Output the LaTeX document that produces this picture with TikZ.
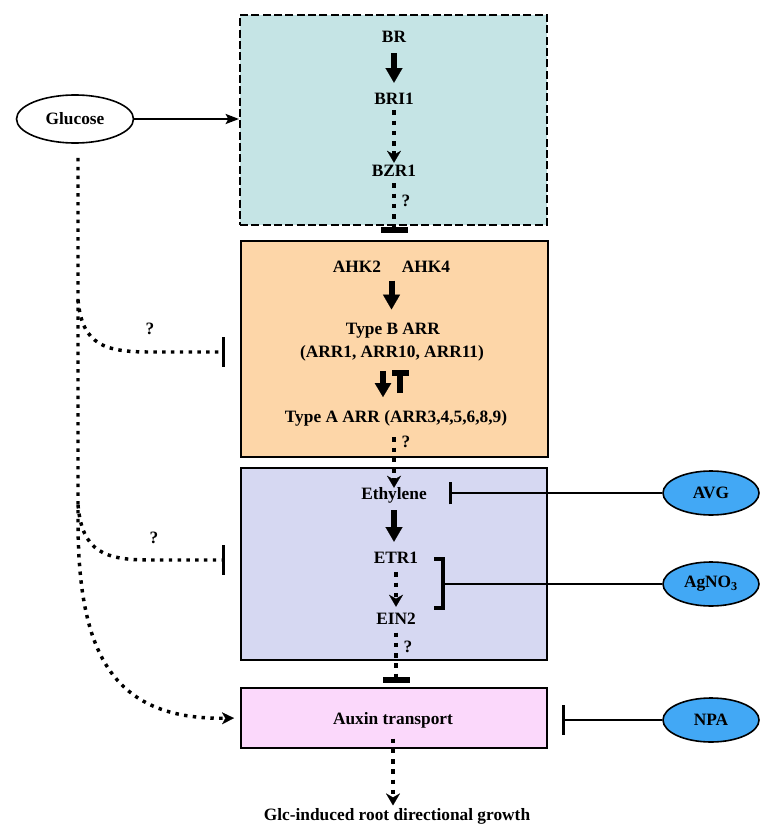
\documentclass[tikz,border=0pt]{standalone}
\usepackage{fontspec}
\setmainfont{Liberation Serif}
\usetikzlibrary{arrows.meta,shapes.geometric,calc}
\definecolor{cyanbox}{RGB}{197,228,229}
\definecolor{orangebox}{RGB}{253,214,168}
\definecolor{purplebox}{RGB}{214,216,242}
\definecolor{pinkbox}{RGB}{251,216,251}
\definecolor{ellblue}{RGB}{66,168,245}
\begin{document}
\begin{tikzpicture}[x=0.75pt,y=-0.75pt,
  every node/.style={font=\bfseries\fontsize{13}{15}\selectfont},
  lbl/.style={inner sep=0pt,text height=8.5pt,text depth=2pt},
  boxstyle/.style={draw,line width=1.5pt,inner sep=0pt},
  bigarrow/.style={line width=4.5pt,-{Triangle[width=12.75pt,length=11pt,line width=0.1pt]}},
  dotarrow/.style={line width=3.4pt,dash pattern=on 3.4pt off 4.3pt,-{Stealth[length=9pt,width=10.5pt,inset=3pt,line width=0.1pt]}},
  dotbar/.style={line width=3.4pt,dash pattern=on 3.4pt off 4.3pt,-{Rectangle[length=3.8pt,width=20pt,line width=0.1pt]}},
  ldot/.style={line width=2.6pt,dash pattern=on 2.6pt off 4pt},
  ldotarrow/.style={ldot,-{Stealth[length=9pt,width=9pt,inset=2.5pt,line width=0.1pt]}},
  ldotbar/.style={ldot,-{Bar[width=22pt,line width=2pt]}},
  solidbar/.style={line width=2pt,-{Bar[width=#1,line width=2.5pt]}},
  ellblk/.style={ellipse,draw,line width=1.2pt,inner sep=0pt}
]
\useasboundingbox (0,0) rectangle (778,838);

% boxes
\node[boxstyle,dashed,dash pattern=on 6pt off 2.5pt,fill=cyanbox,minimum width=230.25pt,minimum height=157.5pt] (cyan) at (393.5,120) {};
\node[boxstyle,fill=orangebox,minimum width=230.25pt,minimum height=162pt] (orange) at (394.5,349) {};
\node[boxstyle,fill=purplebox,minimum width=229.5pt,minimum height=144pt] (purple) at (394,564) {};
\node[boxstyle,fill=pinkbox,minimum width=229.5pt,minimum height=45pt] (pink) at (394,718) {};

% ellipses
\node[ellblk,fill=white,minimum width=87.75pt,minimum height=36pt] (glc) at (75,119) {Glucose};
\node[ellblk,fill=ellblue,minimum width=72pt,minimum height=33pt] (avg) at (711,493) {AVG};
\node[ellblk,fill=ellblue,minimum width=72pt,minimum height=33pt] (agno) at (711,584) {AgNO\textsubscript{3}};
\node[ellblk,fill=ellblue,minimum width=72pt,minimum height=33pt] (npa) at (711,720) {NPA};

% labels
\node[lbl] (br) at (394,38) {BR};
\node[lbl] (bri1) at (394,100) {BRI1};
\node[lbl] (bzr1) at (394,172) {BZR1};
\node[lbl] (ahk2) at (357,268) {AHK2};
\node[lbl] (ahk4) at (426,268) {AHK4};
\node[lbl] (typeb) at (393,330) {Type B ARR};
\node[lbl] (paren) at (392,353) {(ARR1, ARR10, ARR11)};
\node[lbl] (typea) at (396,418) {Type A ARR (ARR3,4,5,6,8,9)};
\node[lbl] (eth) at (394,495) {Ethylene};
\node[lbl] (etr1) at (396,559) {ETR1};
\node[lbl] (ein2) at (396,620) {EIN2};
\node[lbl] (aux) at (393,720) {Auxin transport};
\node[lbl] (glcdir) at (397,816) {Glc-induced root directional growth};

\node[lbl] (q1) at (406,202) {?};
\node[lbl] (q2) at (406,443) {?};
\node[lbl] (q3) at (408,648) {?};
\node[lbl] (q4) at (150,330) {?};
\node[lbl] (q5) at (154,539) {?};

% central column
\draw[bigarrow,shorten <=6pt,shorten >=7.5pt] (br.south) -- (bri1.north);
\draw[dotarrow,shorten <=2.3pt,shorten >=1.5pt] (bri1.south) -- (bzr1.north);
\draw[dotbar,shorten <=3pt,shorten >=6pt] (bzr1.south) -- (bzr1.south |- orange.north);

\coordinate (ahkm) at ($(ahk2.south)!0.5!(ahk4.south)$);
\draw[bigarrow,shorten <=4pt,shorten >=10pt] (ahkm) -- (ahkm |- typeb.north);

\coordinate (ia1) at (383,371);
\coordinate (ia2) at (383,397);
\coordinate (it1) at (400,393);
\coordinate (it2) at (400,370);
\draw[line width=4.5pt,-{Triangle[width=12.5pt,length=10.5pt,line width=0.1pt]}] (ia1) -- (ia2);
\draw[line width=4.5pt,-{Rectangle[length=4.2pt,width=11.5pt,line width=0.1pt]}] (it1) -- (it2);

\draw[dotarrow,shorten <=9pt] (typea.south -| eth.north) -- (eth.north);
\draw[bigarrow,shorten <=6pt,shorten >=7.5pt] (eth.south) -- (eth.south |- etr1.north);
\draw[dotarrow,shorten <=4.5pt,shorten >=4.5pt] (etr1.south) -- (ein2.north);
\draw[dotbar,shorten <=4pt,shorten >=3.75pt] (ein2.south) -- (ein2.south |- pink.north);
\draw[dotarrow,shorten <=8.5pt,shorten >=2.5pt] (aux.south) -- (aux.south |- glcdir.north);

% glucose
\draw[line width=1.5pt,-{Stealth[length=10pt,width=7.5pt,inset=2pt]}] (glc.east) -- (glc.east -| cyan.west);
\coordinate (g0) at (78,158);
\coordinate (gb1) at (78,300);
\coordinate (gb2) at (78,505);
\coordinate (gend) at (78,520);
\coordinate (t1) at (225,352);
\coordinate (t2) at (225,560);
\draw[ldotarrow,shorten >=4.5pt] (g0) -- (gend) .. controls (78,650) and (110,720) .. (pink.west);
\draw[ldotbar] (gb1) .. controls (82,345) and (105,352) .. (150,352) -- (t1);
\draw[ldotbar] (gb2) .. controls (82,552) and (105,560) .. (150,560) -- (t2);

% right side inhibitors
\coordinate (ethbar) at (449,493);
\draw[solidbar=17pt] (avg.west) -- (ethbar);
\coordinate (bk1) at (434,559);
\coordinate (bk2) at (443,559);
\coordinate (bk3) at (443,608);
\coordinate (bk4) at (434,608);
\draw[line width=2.5pt] (bk1) -- (bk2) -- (bk3) -- (bk4);
\draw[line width=2pt] (agno.west) -- (agno.west -| bk2);
\coordinate (npabar) at (562,720);
\draw[solidbar=22pt] (npa.west) -- (npabar);
\end{tikzpicture}
\end{document}
